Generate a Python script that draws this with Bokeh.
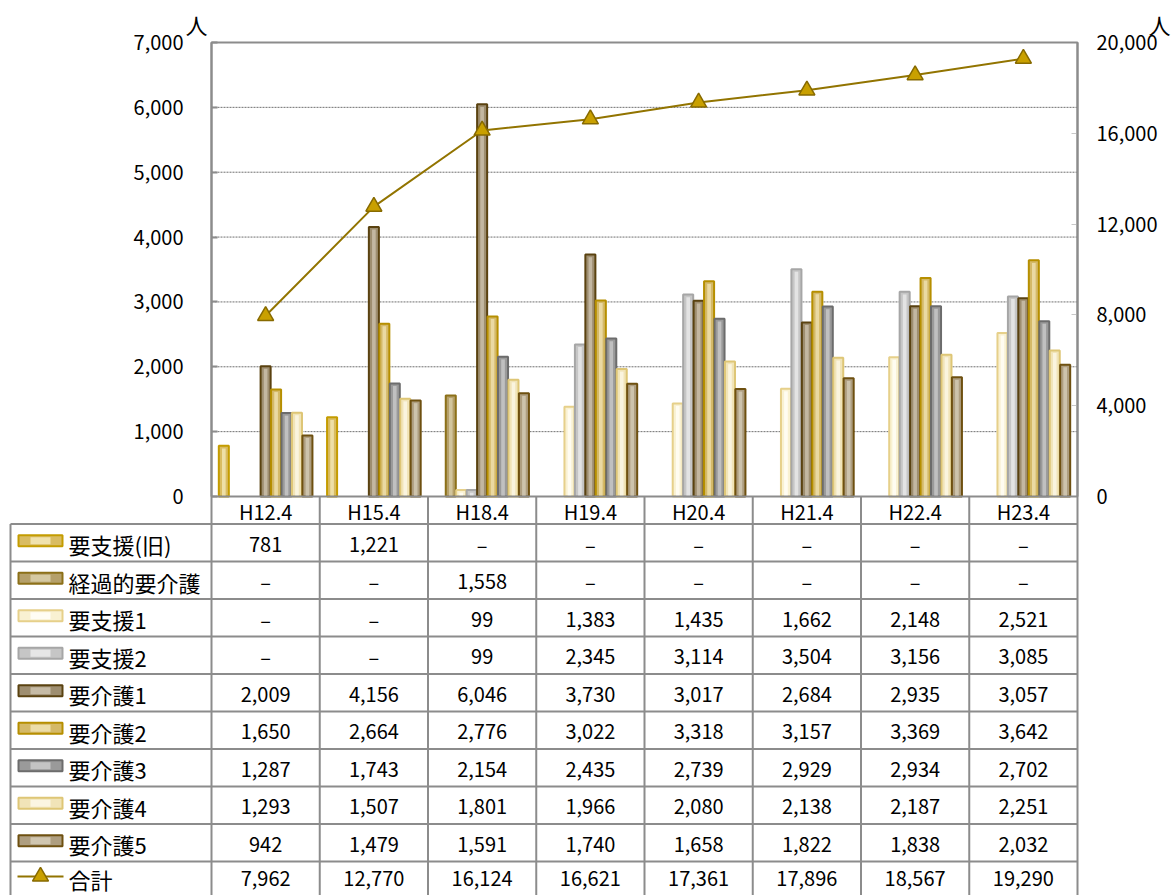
from bokeh.plotting import figure
from bokeh.models import (Range1d, LinearAxis, NumeralTickFormatter, FixedTicker,
                          ColumnDataSource, BoxAnnotation)
from bokeh.embed import file_html
from bokeh.resources import INLINE
from bokeh.core.properties import value

# ---------------- data ----------------
categories = ["H12.4", "H15.4", "H18.4", "H19.4", "H20.4", "H21.4", "H22.4", "H23.4"]
series_names = ["要支援(旧)", "経過的要介護", "要支援1", "要支援2", "要介護1",
                "要介護2", "要介護3", "要介護4", "要介護5"]
yoshien_old = [781, 1221, None, None, None, None, None, None]
keika_kaigo = [None, None, 1558, None, None, None, None, None]
yoshien1 = [None, None, 99, 1383, 1435, 1662, 2148, 2521]
yoshien2 = [None, None, 99, 2345, 3114, 3504, 3156, 3085]
kaigo1 = [2009, 4156, 6046, 3730, 3017, 2684, 2935, 3057]
kaigo2 = [1650, 2664, 2776, 3022, 3318, 3157, 3369, 3642]
kaigo3 = [1287, 1743, 2154, 2435, 2739, 2929, 2934, 2702]
kaigo4 = [1293, 1507, 1801, 1966, 2080, 2138, 2187, 2251]
kaigo5 = [942, 1479, 1591, 1740, 1658, 1822, 1838, 2032]
total_name = "合計"
total = [7962, 12770, 16124, 16621, 17361, 17896, 18567, 19290]
left_ticks = [0, 1000, 2000, 3000, 4000, 5000, 6000, 7000]
right_ticks = [0, 4000, 8000, 12000, 16000, 20000]
unit_label = "人"

series_values = [yoshien_old, keika_kaigo, yoshien1, yoshien2, kaigo1,
                 kaigo2, kaigo3, kaigo4, kaigo5]

# ---------------- styles ----------------
FONT = "Noto Sans CJK JP"
edge_colors = ["#C49C00", "#8C7018", "#E6D08A", "#A6A6A6", "#5A4210",
               "#B68F00", "#6C6C6C", "#DEC676", "#6E5010"]
fill_colors = ["#D9BC62", "#B5A06A", "#F9F1D2", "#C6C6C6", "#9E8E70",
               "#D4B968", "#9A9A9A", "#F1E4B8", "#AE9E80"]
hi_colors = ["#F0E2AE", "#D5C9A2", "#FFFDF4", "#E6E6E6", "#C6BBA6",
             "#ECDDA8", "#C4C4C4", "#FBF5E2", "#D0C6B0"]
line_color = "#927400"
marker_fill = "#C9A000"
marker_line = "#876A00"
frame_color = "#8C8C8C"

W, H = 1171, 895
PX0, CAT_PX = 211, 108.25   # left of plot box, pixels per category
PX_TOP, PX_ZERO = 42, 496   # pixel rows of the top value and 0
LEFT_MAX, RIGHT_MAX = left_ticks[-1], right_ticks[-1]


def px2x(px):
    return (px - PX0) / CAT_PX


def px2y(py):   # pixel row -> left-axis value
    return (PX_ZERO - py) * LEFT_MAX / (PX_ZERO - PX_TOP)


def px2r(py):   # pixel row -> right-axis value
    return (PX_ZERO - py) * RIGHT_MAX / (PX_ZERO - PX_TOP)


ncat = len(categories)

p = figure(width=W, height=H, x_range=Range1d(px2x(0), px2x(W)),
           y_range=Range1d(px2y(H), px2y(0)), output_backend="svg",
           toolbar_location=None, title=None, x_axis_type=None, y_axis_type=None,
           min_border_left=0, min_border_right=0, min_border_top=0, min_border_bottom=0)
p.extra_y_ranges = {"right": Range1d(px2r(H), px2r(0)),
                    "table": Range1d(H, 0)}
p.outline_line_color = None
p.background_fill_color = "white"
p.border_fill_color = "white"

# ---------------- chart ----------------
gy = left_ticks[1:-1]
p.segment(x0=[0] * len(gy), x1=[ncat] * len(gy), y0=gy, y1=gy,
          line_color="#6f6f6f", line_dash="2 1", line_width=1)

ly = LinearAxis(fixed_location=0, bounds=(0, LEFT_MAX), ticker=FixedTicker(ticks=left_ticks),
                formatter=NumeralTickFormatter(format="0,0"))
ly.axis_line_color = frame_color
ly.axis_line_width = 2
ly.major_tick_in = 6
ly.major_tick_out = 0
ly.major_tick_line_color = frame_color
ly.major_tick_line_width = 2
ly.minor_tick_line_color = None
ly.major_label_standoff = 28
ly.major_label_text_font = FONT
ly.major_label_text_font_size = "20px"
ly.major_label_text_color = "black"
p.add_layout(ly, "left")

ry = LinearAxis(y_range_name="right", fixed_location=ncat, bounds=(0, RIGHT_MAX),
                ticker=FixedTicker(ticks=right_ticks),
                formatter=NumeralTickFormatter(format="0,0"))
ry.axis_line_color = frame_color
ry.axis_line_width = 2
ry.major_tick_in = 6
ry.major_tick_out = 0
ry.major_tick_line_color = "#c8c8c8"
ry.minor_tick_line_color = None
ry.major_label_standoff = 19
ry.major_label_text_font = FONT
ry.major_label_text_font_size = "20px"
ry.major_label_text_color = "black"
p.add_layout(ry, "right")

n = len(series_names)
slot = 10.45 / CAT_PX
for k, vals in enumerate(series_values):
    xs, tops, tops_hi = [], [], []
    for i, v in enumerate(vals):
        if v is None:
            continue
        xs.append(i + 0.5 + (k - (n - 1) / 2) * slot)
        tops.append(v)
        tops_hi.append(max(v - 40, 0))
    src = ColumnDataSource(dict(x=xs, top=tops, top_hi=tops_hi))
    p.vbar(x="x", top="top", bottom=0, width=slot * 0.96, source=src,
           fill_color=fill_colors[k], line_color=edge_colors[k], line_width=2)
    p.vbar(x="x", top="top_hi", bottom=0, width=slot * 0.35, source=src,
           fill_color=hi_colors[k], line_color=None, fill_alpha=0.9)

p.add_layout(BoxAnnotation(left=0, right=ncat, bottom=0, top=LEFT_MAX,
                           fill_alpha=0, line_color=frame_color, line_alpha=1,
                           line_width=2))

cx = [i + 0.5 for i in range(ncat)]
p.line(cx, total, y_range_name="right", line_color=line_color, line_width=2)
p.scatter(cx, total, y_range_name="right", marker="triangle", size=16,
          fill_color=marker_fill, line_color=marker_line, line_width=1.5)

p.text(x=[px2x(196), px2x(1159)], y=[23, 23], y_range_name="table",
       text=[unit_label, unit_label], text_font=value(FONT),
       text_font_size=value("22px"), text_align="center",
       text_baseline="middle", text_color="black")

# ---------------- data table (pixel rows on the "table" range) ----------------
HEAD_BOTTOM, ROW_H = 523.5, 37.5
row_names = series_names + [total_name]
row_values = series_values + [total]
n_rows = len(row_names)


def row_center(r):
    yc = HEAD_BOTTOM + ROW_H * r + ROW_H / 2 + 1.5
    return min(yc, H - 17)   # keep the last (cut) row's text inside the page


hy = [HEAD_BOTTOM + ROW_H * r for r in range(n_rows)]
p.segment(x0=[px2x(10)] * len(hy), x1=[ncat] * len(hy), y0=hy, y1=hy,
          y_range_name="table", line_color=frame_color, line_width=2)
vx = list(range(ncat + 1))
p.segment(x0=vx, x1=vx, y0=[PX_ZERO] * len(vx), y1=[H] * len(vx),
          y_range_name="table", line_color=frame_color, line_width=2)
p.segment(x0=[px2x(10)], x1=[px2x(10)], y0=[HEAD_BOTTOM], y1=[H],
          y_range_name="table", line_color=frame_color, line_width=2)

p.text(x=cx, y=[511] * ncat, y_range_name="table", text=categories,
       text_font=value(FONT), text_font_size=value("20px"), text_align="center",
       text_baseline="middle", text_color="black")

tx, ty, tt = [], [], []
for r, vals in enumerate(row_values):
    yc = row_center(r)
    for i, v in enumerate(vals):
        tx.append(i + 0.5)
        ty.append(yc)
        tt.append("–" if v is None else f"{v:,}")
p.text(x=tx, y=ty, y_range_name="table", text=tt, text_font=value(FONT),
       text_font_size=value("20px"), text_align="center", text_baseline="middle",
       text_color="black")

ry_lab = [row_center(r) for r in range(n_rows)]
p.text(x=[px2x(68)] * n_rows, y=ry_lab, y_range_name="table", text=row_names,
       text_font=value(FONT), text_font_size=value("22px"), text_align="left",
       text_baseline="middle", text_color="black")

sw_y = [row_center(r) - 3.5 for r in range(len(series_names))]
sw_x = [px2x(40)] * len(series_names)
p.rect(x=sw_x, y=sw_y, y_range_name="table", width=44, height=11,
       width_units="screen", height_units="screen",
       fill_color=fill_colors, line_color=edge_colors, line_width=2)
p.rect(x=sw_x, y=sw_y, y_range_name="table", width=20, height=7,
       width_units="screen", height_units="screen",
       fill_color=hi_colors, line_color=None)
ty_total = row_center(n_rows - 1) - 2
p.line([px2x(17), px2x(63)], [ty_total, ty_total], y_range_name="table",
       line_color=line_color, line_width=2)
p.scatter([px2x(40)], [ty_total], y_range_name="table", marker="triangle", size=16,
          fill_color=marker_fill, line_color=marker_line, line_width=1.5)

open("out.html", "w").write(file_html(p, INLINE))
